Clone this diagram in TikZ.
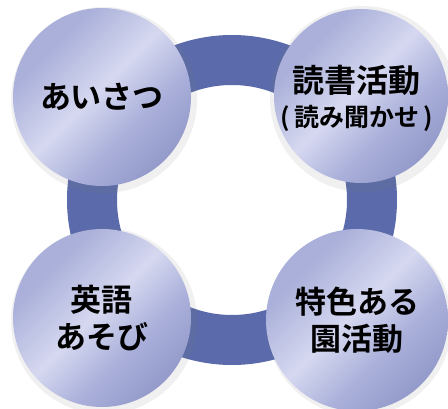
\documentclass[tikz,border=0pt]{standalone}
\usepackage{fontspec}
\newfontfamily\jpfont{Noto Sans CJK JP}[BoldFont={Noto Sans CJK JP Bold}]
\usetikzlibrary{positioning}

\definecolor{ringblue}{RGB}{90,106,170}
\definecolor{ballhi}{RGB}{214,216,240}
\definecolor{balllo}{RGB}{104,114,172}
\definecolor{ballmid}{RGB}{170,176,218}
\pgfdeclarehorizontalshading{ballshade}{100bp}{color(0bp)=(ballmid); color(30bp)=(ballmid); color(48bp)=(ballhi); color(62bp)=(ballmid); color(100bp)=(balllo)}

\tikzset{
  ball/.style={circle, shading=ballshade, shading angle=-45, minimum size=178pt,
    inner sep=0pt, align=center, font=\jpfont\bfseries\fontsize{31pt}{37pt}\selectfont},
  halo/.style={circle, fill=gray, opacity=0.12, minimum size=186pt},
  small/.style={font=\jpfont\bfseries\fontsize{25pt}{28pt}\selectfont}
}

\begin{document}
\begin{tikzpicture}[x=1pt, y=-1pt]
        \useasboundingbox (0,0) rectangle (448,409);
        % Ring behind the circles
        \coordinate (ctr) at (232,200);
        \draw[ringblue, line width=50pt] (ctr) circle (140);

        % Soft shadows
        \node[halo] at (104,100) {}; \node[halo] at (363,99) {};
        \node[halo] at (104,321) {}; \node[halo] at (359,323) {};

        % Four activities
        \node[ball] (greet) at (102,97) {あいさつ};
        \node[ball, minimum size=174pt] (read) at (361,96) {};
        \node (readA) at (356,80) [font=\jpfont\bfseries\fontsize{32pt}{36pt}\selectfont] {読書活動};
        \node[small] (readB) at (357,118) {(\,読み聞かせ\,)};
        \node[ball] (english) at (102,318) {英語\\あそび};
        \node[ball, minimum size=182pt] (special) at (357,320) {特色ある\\園活動};
    \end{tikzpicture}
\end{document}
